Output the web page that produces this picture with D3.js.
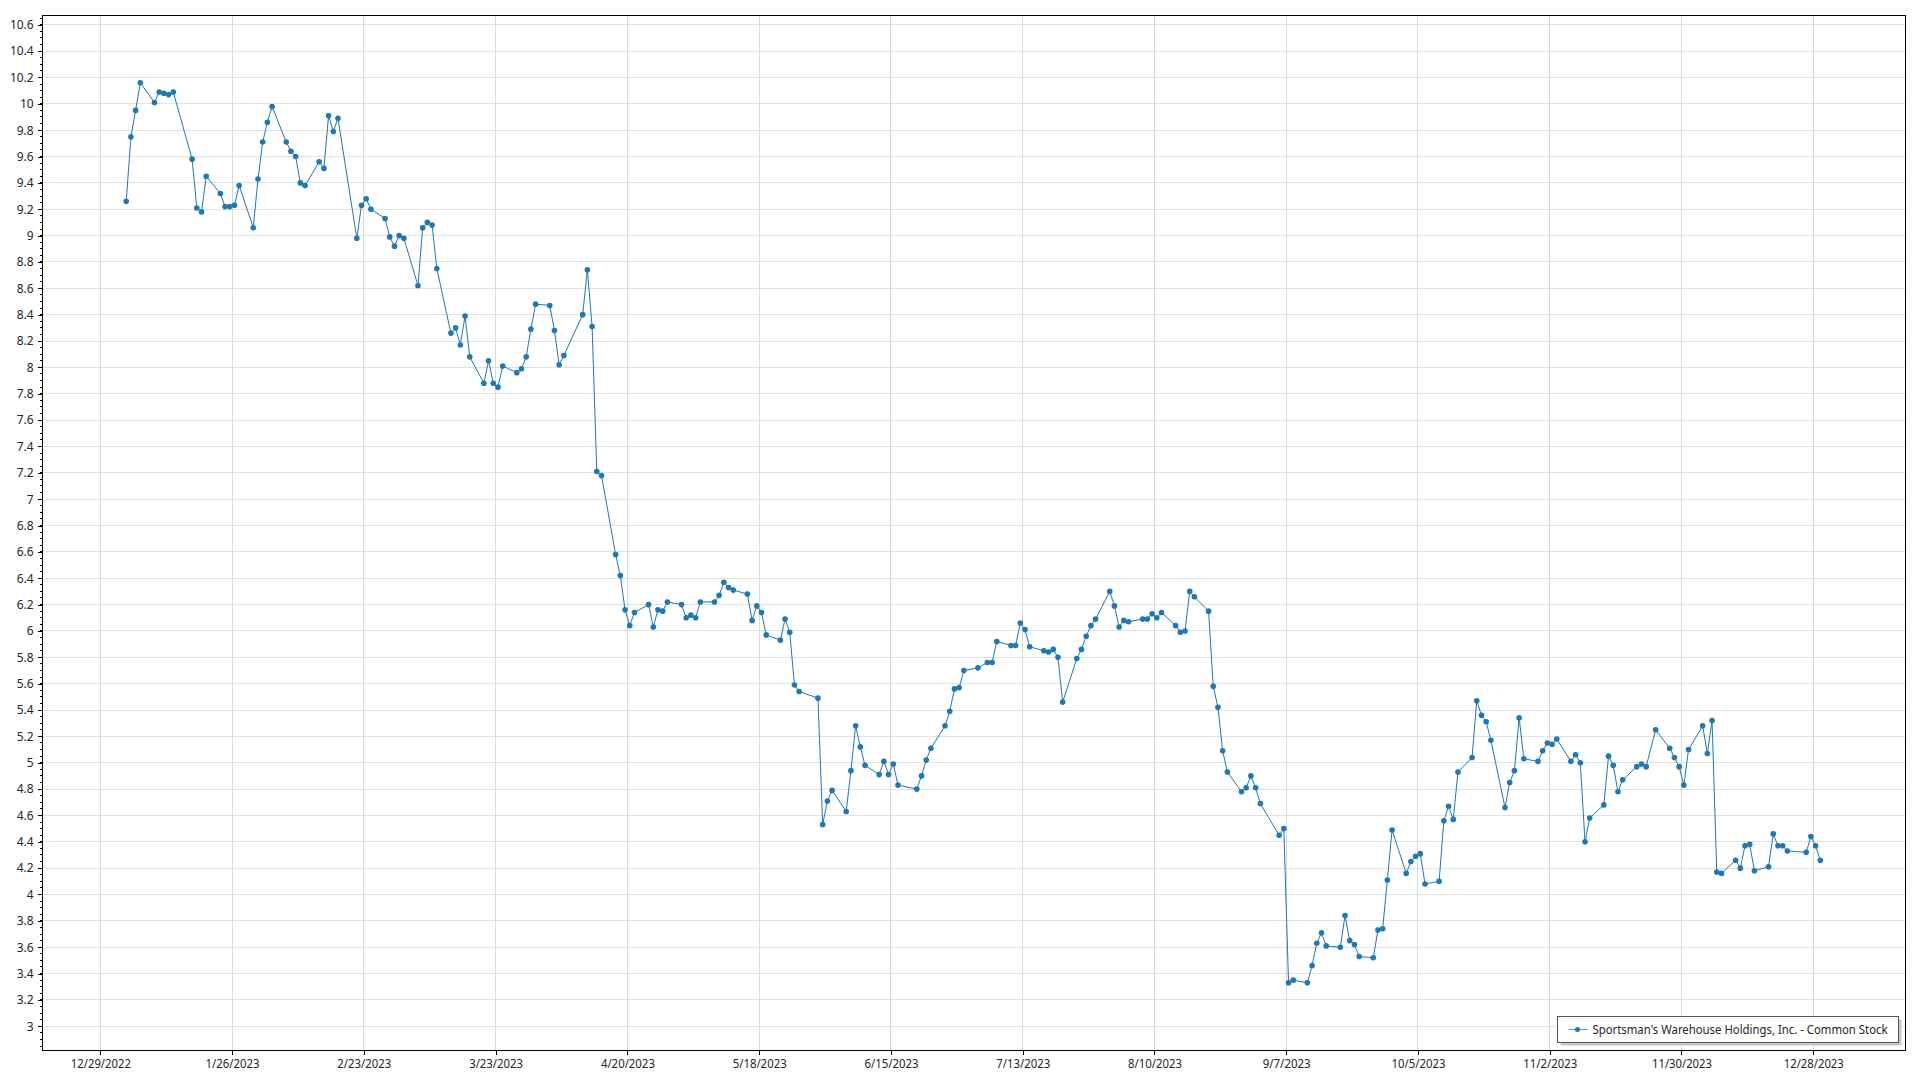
<!DOCTYPE html>
<html>
<head>
<meta charset="utf-8">
<script src="https://cdn.jsdelivr.net/npm/d3@7"></script>
<style>
  html, body { margin: 0; padding: 0; background: #ffffff; }
  svg { display: block; }
  text { font-family: "Noto Sans", "Open Sans", sans-serif; }
</style>
</head>
<body>
<svg id="chart" width="1920" height="1080"></svg>
<script>
// ---------------- data ----------------
const seriesName = "Sportsman's Warehouse Holdings, Inc. - Common Stock";

const tradeDates = [
  "2023-01-03","2023-01-04","2023-01-05","2023-01-06",
  "2023-01-09","2023-01-10","2023-01-11","2023-01-12","2023-01-13",
  "2023-01-17","2023-01-18","2023-01-19","2023-01-20",
  "2023-01-23","2023-01-24","2023-01-25","2023-01-26","2023-01-27",
  "2023-01-30","2023-01-31","2023-02-01","2023-02-02","2023-02-03",
  "2023-02-06","2023-02-07","2023-02-08","2023-02-09","2023-02-10",
  "2023-02-13","2023-02-14","2023-02-15","2023-02-16","2023-02-17",
  "2023-02-21","2023-02-22","2023-02-23","2023-02-24",
  "2023-02-27","2023-02-28","2023-03-01","2023-03-02","2023-03-03",
  "2023-03-06","2023-03-07","2023-03-08","2023-03-09","2023-03-10",
  "2023-03-13","2023-03-14","2023-03-15","2023-03-16","2023-03-17",
  "2023-03-20","2023-03-21","2023-03-22","2023-03-23","2023-03-24",
  "2023-03-27","2023-03-28","2023-03-29","2023-03-30","2023-03-31",
  "2023-04-03","2023-04-04","2023-04-05","2023-04-06",
  "2023-04-10","2023-04-11","2023-04-12","2023-04-13","2023-04-14",
  "2023-04-17","2023-04-18","2023-04-19","2023-04-20","2023-04-21",
  "2023-04-24","2023-04-25","2023-04-26","2023-04-27","2023-04-28",
  "2023-05-01","2023-05-02","2023-05-03","2023-05-04","2023-05-05",
  "2023-05-08","2023-05-09","2023-05-10","2023-05-11","2023-05-12",
  "2023-05-15","2023-05-16","2023-05-17","2023-05-18","2023-05-19",
  "2023-05-22","2023-05-23","2023-05-24","2023-05-25","2023-05-26",
  "2023-05-30","2023-05-31","2023-06-01","2023-06-02",
  "2023-06-05","2023-06-06","2023-06-07","2023-06-08","2023-06-09",
  "2023-06-12","2023-06-13","2023-06-14","2023-06-15","2023-06-16",
  "2023-06-20","2023-06-21","2023-06-22","2023-06-23",
  "2023-06-26","2023-06-27","2023-06-28","2023-06-29","2023-06-30",
  "2023-07-03","2023-07-05","2023-07-06","2023-07-07",
  "2023-07-10","2023-07-11","2023-07-12","2023-07-13","2023-07-14",
  "2023-07-17","2023-07-18","2023-07-19","2023-07-20","2023-07-21",
  "2023-07-24","2023-07-25","2023-07-26","2023-07-27","2023-07-28",
  "2023-07-31","2023-08-01","2023-08-02","2023-08-03","2023-08-04",
  "2023-08-07","2023-08-08","2023-08-09","2023-08-10","2023-08-11",
  "2023-08-14","2023-08-15","2023-08-16","2023-08-17","2023-08-18",
  "2023-08-21","2023-08-22","2023-08-23","2023-08-24","2023-08-25",
  "2023-08-28","2023-08-29","2023-08-30","2023-08-31","2023-09-01",
  "2023-09-05","2023-09-06","2023-09-07","2023-09-08",
  "2023-09-11","2023-09-12","2023-09-13","2023-09-14","2023-09-15",
  "2023-09-18","2023-09-19","2023-09-20","2023-09-21","2023-09-22",
  "2023-09-25","2023-09-26","2023-09-27","2023-09-28","2023-09-29",
  "2023-10-02","2023-10-03","2023-10-04","2023-10-05","2023-10-06",
  "2023-10-09","2023-10-10","2023-10-11","2023-10-12","2023-10-13",
  "2023-10-16","2023-10-17","2023-10-18","2023-10-19","2023-10-20",
  "2023-10-23","2023-10-24","2023-10-25","2023-10-26","2023-10-27",
  "2023-10-30","2023-10-31","2023-11-01","2023-11-02","2023-11-03",
  "2023-11-06","2023-11-07","2023-11-08","2023-11-09","2023-11-10",
  "2023-11-13","2023-11-14","2023-11-15","2023-11-16","2023-11-17",
  "2023-11-20","2023-11-21","2023-11-22","2023-11-24",
  "2023-11-27","2023-11-28","2023-11-29","2023-11-30","2023-12-01",
  "2023-12-04","2023-12-05","2023-12-06","2023-12-07","2023-12-08",
  "2023-12-11","2023-12-12","2023-12-13","2023-12-14","2023-12-15",
  "2023-12-18","2023-12-19","2023-12-20","2023-12-21","2023-12-22",
  "2023-12-26","2023-12-27","2023-12-28","2023-12-29"
];

const closePrices = [
  9.26, 9.75, 9.95, 10.16,
  10.01, 10.09, 10.08, 10.07, 10.09,
  9.58, 9.21, 9.18, 9.45,
  9.32, 9.22, 9.22, 9.23, 9.38,
  9.06, 9.43, 9.71, 9.86, 9.98,
  9.71, 9.64, 9.60, 9.40, 9.38,
  9.56, 9.51, 9.91, 9.79, 9.89,
  8.98, 9.23, 9.28, 9.20,
  9.13, 8.99, 8.92, 9.00, 8.98,
  8.62, 9.06, 9.10, 9.08, 8.75,
  8.26, 8.30, 8.17, 8.39, 8.08,
  7.88, 8.05, 7.88, 7.85, 8.01,
  7.96, 7.99, 8.08, 8.29, 8.48,
  8.47, 8.28, 8.02, 8.09,
  8.40, 8.74, 8.31, 7.21, 7.18,
  6.58, 6.42, 6.16, 6.04, 6.14,
  6.20, 6.03, 6.16, 6.15, 6.22,
  6.20, 6.10, 6.12, 6.10, 6.22,
  6.22, 6.27, 6.37, 6.33, 6.31,
  6.28, 6.08, 6.19, 6.14, 5.97,
  5.93, 6.09, 5.99, 5.59, 5.54,
  5.49, 4.53, 4.71, 4.79,
  4.63, 4.94, 5.28, 5.12, 4.98,
  4.91, 5.01, 4.91, 4.99, 4.83,
  4.80, 4.90, 5.02, 5.11,
  5.28, 5.39, 5.56, 5.57, 5.70,
  5.72, 5.76, 5.76, 5.92,
  5.89, 5.89, 6.06, 6.01, 5.88,
  5.85, 5.84, 5.86, 5.80, 5.46,
  5.79, 5.86, 5.96, 6.04, 6.09,
  6.30, 6.19, 6.03, 6.08, 6.07,
  6.09, 6.09, 6.13, 6.10, 6.14,
  6.04, 5.99, 6.00, 6.30, 6.26,
  6.15, 5.58, 5.42, 5.09, 4.93,
  4.78, 4.81, 4.90, 4.81, 4.69,
  4.45, 4.50, 3.33, 3.35,
  3.33, 3.46, 3.63, 3.71, 3.61,
  3.60, 3.84, 3.65, 3.62, 3.53,
  3.52, 3.73, 3.74, 4.11, 4.49,
  4.16, 4.25, 4.29, 4.31, 4.08,
  4.10, 4.56, 4.67, 4.57, 4.93,
  5.04, 5.47, 5.36, 5.31, 5.17,
  4.66, 4.85, 4.94, 5.34, 5.03,
  5.01, 5.09, 5.15, 5.14, 5.18,
  5.01, 5.06, 5.00, 4.40, 4.58,
  4.68, 5.05, 4.98, 4.78, 4.87,
  4.97, 4.99, 4.97, 5.25,
  5.11, 5.04, 4.97, 4.83, 5.10,
  5.28, 5.07, 5.32, 4.17, 4.16,
  4.26, 4.20, 4.37, 4.38, 4.18,
  4.21, 4.46, 4.37, 4.37, 4.33,
  4.32, 4.44, 4.37, 4.26
];

const xTickLabels = ["12/29/2022","1/26/2023","2/23/2023","3/23/2023","4/20/2023","5/18/2023",
  "6/15/2023","7/13/2023","8/10/2023","9/7/2023","10/5/2023","11/2/2023","11/30/2023","12/28/2023"];

const yTickValues = [3, 3.2, 3.4, 3.6, 3.8, 4, 4.2, 4.4, 4.6, 4.8, 5, 5.2, 5.4, 5.6, 5.8, 6, 6.2, 6.4,
  6.6, 6.8, 7, 7.2, 7.4, 7.6, 7.8, 8, 8.2, 8.4, 8.6, 8.8, 9, 9.2, 9.4, 9.6, 9.8, 10, 10.2, 10.4, 10.6];

// ---------------- layout ----------------
const plotLeft = 42.7, plotRight = 1905, plotTop = 15, plotBottom = 1050;
const seriesColor = "#1f77b4";
const gridColor = "#e1e1e1";
const textColor = "#262626";
const labelFont = '"Noto Sans", sans-serif';

const parseDay = d3.timeParse("%Y-%m-%d %H:%M");
const parseTick = d3.timeParse("%m/%d/%Y");
const data = tradeDates.map((d, i) => ({ date: parseDay(d + " 12:00"), value: closePrices[i] }));
const xTicks = xTickLabels.map(s => parseTick(s));

const x = d3.scaleTime()
  .domain([new Date(2022, 11, 16, 18), new Date(2024, 0, 16, 12)])
  .range([plotLeft, plotRight]);
const y = d3.scaleLinear()
  .domain([2.82, 10.674])
  .range([plotBottom, plotTop]);

const svg = d3.select("#chart");

// gridlines
const grid = svg.append("g").attr("shape-rendering", "crispEdges");
grid.selectAll("line.gy").data(yTickValues).join("line")
  .attr("x1", plotLeft).attr("x2", plotRight)
  .attr("y1", d => y(d)).attr("y2", d => y(d))
  .attr("stroke", gridColor).attr("stroke-width", 1);
grid.selectAll("line.gx").data(xTicks).join("line")
  .attr("x1", d => x(d)).attr("x2", d => x(d))
  .attr("y1", plotTop).attr("y2", plotBottom)
  .attr("stroke", "#d9d9d9").attr("stroke-width", 1);

// minor y ticks
const minorY = d3.range(Math.ceil(2.82 / 0.05), Math.floor(10.674 / 0.05) + 1).map(k => k * 0.05);

// Y axis
const yAxis = d3.axisLeft(y)
  .tickValues(yTickValues)
  .tickSize(5)
  .tickPadding(4)
  .tickFormat(d => String(Math.round(d * 10) / 10));
const gy = svg.append("g").attr("transform", `translate(${plotLeft},0)`).call(yAxis);
gy.select(".domain").remove();
gy.selectAll(".tick line").attr("stroke", "#000").attr("shape-rendering", "crispEdges");
gy.selectAll(".tick text").attr("fill", textColor).style("font-size", "12px")
  .style("font-family", labelFont);
svg.append("g").attr("shape-rendering", "crispEdges")
  .selectAll("line").data(minorY).join("line")
  .attr("x1", plotLeft - 2.5).attr("x2", plotLeft)
  .attr("y1", d => y(d)).attr("y2", d => y(d))
  .attr("stroke", "#000");

// X axis
const xAxis = d3.axisBottom(x)
  .tickValues(xTicks)
  .tickSize(5)
  .tickPadding(4)
  .tickFormat((d, i) => xTickLabels[i]);
const gx = svg.append("g").attr("transform", `translate(0,${plotBottom})`).call(xAxis);
gx.select(".domain").remove();
gx.selectAll(".tick line").attr("stroke", "#000").attr("shape-rendering", "crispEdges");
gx.selectAll(".tick text").attr("fill", textColor).style("font-size", "12px")
  .style("font-family", labelFont)
  .attr("textLength", 60).attr("lengthAdjust", "spacingAndGlyphs")
  .each(function(d, i) {
    // keep proportional width for shorter labels
    const n = xTickLabels[i].length;
    d3.select(this).attr("textLength", 60 * n / 10);
  });

// plot frame
svg.append("rect")
  .attr("x", plotLeft).attr("y", plotTop)
  .attr("width", plotRight - plotLeft).attr("height", plotBottom - plotTop)
  .attr("fill", "none").attr("stroke", "#000").attr("stroke-width", 1)
  .attr("shape-rendering", "crispEdges");

// series line
const line = d3.line().x(d => x(d.date)).y(d => y(d.value));
svg.append("path").datum(data)
  .attr("d", line)
  .attr("fill", "none")
  .attr("stroke", seriesColor)
  .attr("stroke-width", 1)
  .attr("stroke-linejoin", "round");

svg.append("g").selectAll("circle").data(data).join("circle")
  .attr("cx", d => x(d.date)).attr("cy", d => y(d.value))
  .attr("r", 2.8)
  .attr("fill", seriesColor);

// legend
const lg = svg.append("g").attr("transform", "translate(1557.5,1016.5)");
const lgW = 341, lgH = 26;
lg.append("rect").attr("x", 3).attr("y", 3).attr("width", lgW).attr("height", lgH)
  .attr("fill", "#c8c8c8");
lg.append("rect").attr("x", 0).attr("y", 0).attr("width", lgW).attr("height", lgH)
  .attr("fill", "#fff").attr("stroke", "#555").attr("stroke-width", 1)
  .attr("shape-rendering", "crispEdges");
lg.append("line").attr("x1", 11).attr("x2", 30).attr("y1", 13).attr("y2", 13)
  .attr("stroke", "#5b9bcf").attr("stroke-width", 1);
lg.append("circle").attr("cx", 20).attr("cy", 13).attr("r", 2.5).attr("fill", seriesColor);
lg.append("text").attr("x", 35).attr("y", 13).attr("dy", "0.35em")
  .attr("fill", textColor).style("font-size", "12px")
  .attr("textLength", 295).attr("lengthAdjust", "spacingAndGlyphs")
  .text(seriesName);
</script>
</body>
</html>
